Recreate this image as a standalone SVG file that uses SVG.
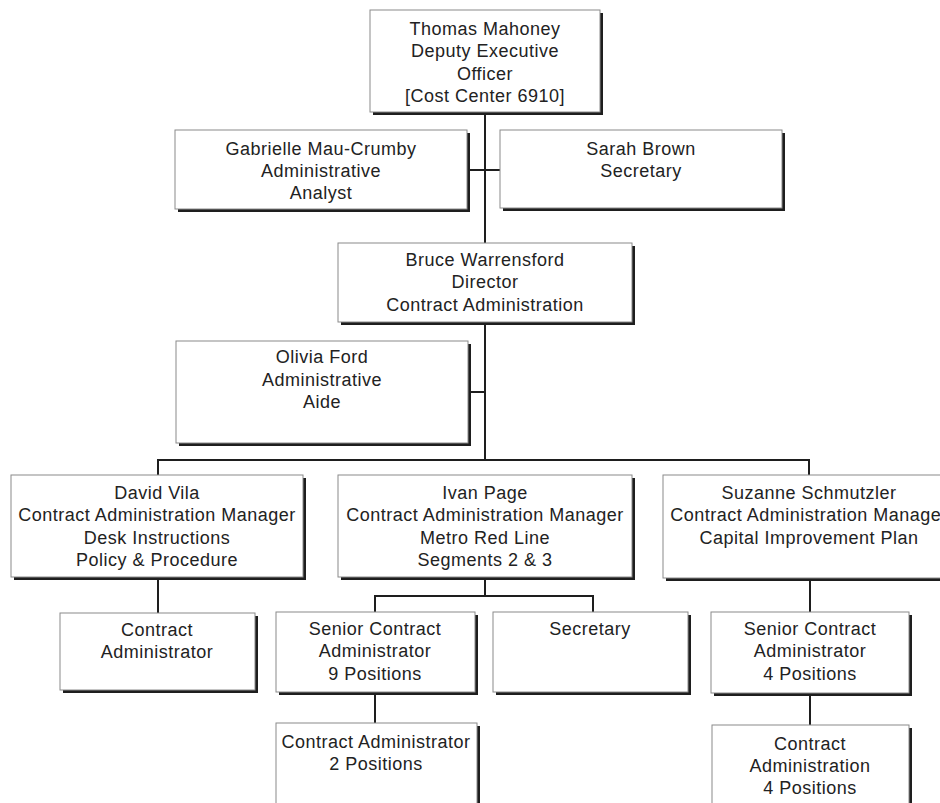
<svg xmlns="http://www.w3.org/2000/svg" width="940" height="803" viewBox="0 0 940 803">
<style>
.sh{fill:#1e1e1e}
.bx{fill:#fff;stroke:#8a8a8a;stroke-width:1}
.t{font-family:"Liberation Sans",Arial,sans-serif;font-size:18px;fill:#222;text-anchor:middle;letter-spacing:0.5px}
.c{stroke:#1e1e1e;stroke-width:2;fill:none}
</style>
<rect width="940" height="803" fill="#fff"/>
<g id="connectors">
<path class="c" d="M485 112V460M467 170H500M468 392H485M158 475V460H809V475M485 577V596M375 612V596H593V612M158 577V613M375 692V723M810 578V612M810 693V725"/>
</g>
<g id="n1"><rect class="sh" x="373" y="13" width="230" height="102"/><rect class="bx" x="370" y="10" width="230" height="102"/>
<text class="t" x="485" y="35">Thomas Mahoney</text><text class="t" x="485" y="57">Deputy Executive</text><text class="t" x="485" y="80">Officer</text><text class="t" x="485" y="102">[Cost Center 6910]</text></g>
<g id="n2"><rect class="sh" x="178" y="133" width="292" height="79"/><rect class="bx" x="175" y="130" width="292" height="79"/>
<text class="t" x="321" y="155">Gabrielle Mau-Crumby</text><text class="t" x="321" y="177">Administrative</text><text class="t" x="321" y="199">Analyst</text></g>
<g id="n3"><rect class="sh" x="503" y="133" width="282" height="78"/><rect class="bx" x="500" y="130" width="282" height="78"/>
<text class="t" x="641" y="155">Sarah Brown</text><text class="t" x="641" y="177">Secretary</text></g>
<g id="n4"><rect class="sh" x="341" y="246" width="294" height="79"/><rect class="bx" x="338" y="243" width="294" height="79"/>
<text class="t" x="485" y="266">Bruce Warrensford</text><text class="t" x="485" y="288">Director</text><text class="t" x="485" y="311">Contract Administration</text></g>
<g id="n5"><rect class="sh" x="179" y="344" width="292" height="102"/><rect class="bx" x="176" y="341" width="292" height="102"/>
<text class="t" x="322" y="363">Olivia Ford</text><text class="t" x="322" y="386">Administrative</text><text class="t" x="322" y="408">Aide</text></g>
<g id="n6"><rect class="sh" x="14" y="478" width="292" height="102"/><rect class="bx" x="11" y="475" width="292" height="102"/>
<text class="t" x="157" y="499">David Vila</text><text class="t" x="157" y="521">Contract Administration Manager</text><text class="t" x="157" y="544">Desk Instructions</text><text class="t" x="157" y="566">Policy &amp; Procedure</text></g>
<g id="n7"><rect class="sh" x="341" y="478" width="294" height="102"/><rect class="bx" x="338" y="475" width="294" height="102"/>
<text class="t" x="485" y="499">Ivan Page</text><text class="t" x="485" y="521">Contract Administration Manager</text><text class="t" x="485" y="544">Metro Red Line</text><text class="t" x="485" y="566">Segments 2 &amp; 3</text></g>
<g id="n8"><rect class="sh" x="666" y="478" width="292" height="103"/><rect class="bx" x="663" y="475" width="292" height="103"/>
<text class="t" x="809" y="499">Suzanne Schmutzler</text><text class="t" x="809" y="521">Contract Administration Manager</text><text class="t" x="809" y="544">Capital Improvement Plan</text></g>
<g id="n9"><rect class="sh" x="63" y="616" width="195" height="77"/><rect class="bx" x="60" y="613" width="195" height="77"/>
<text class="t" x="157" y="636">Contract</text><text class="t" x="157" y="658">Administrator</text></g>
<g id="n10"><rect class="sh" x="279" y="615" width="199" height="80"/><rect class="bx" x="276" y="612" width="199" height="80"/>
<text class="t" x="375" y="635">Senior Contract</text><text class="t" x="375" y="657">Administrator</text><text class="t" x="375" y="680">9 Positions</text></g>
<g id="n11"><rect class="sh" x="496" y="615" width="195" height="80"/><rect class="bx" x="493" y="612" width="195" height="80"/>
<text class="t" x="590" y="635">Secretary</text></g>
<g id="n12"><rect class="sh" x="714" y="615" width="198" height="81"/><rect class="bx" x="711" y="612" width="198" height="81"/>
<text class="t" x="810" y="635">Senior Contract</text><text class="t" x="810" y="657">Administrator</text><text class="t" x="810" y="680">4 Positions</text></g>
<g id="n13"><rect class="sh" x="279" y="726" width="201" height="100"/><rect class="bx" x="276" y="723" width="201" height="100"/>
<text class="t" x="376" y="748">Contract Administrator</text><text class="t" x="376" y="770">2 Positions</text></g>
<g id="n14"><rect class="sh" x="715" y="728" width="197" height="100"/><rect class="bx" x="712" y="725" width="197" height="100"/>
<text class="t" x="810" y="750">Contract</text><text class="t" x="810" y="772">Administration</text><text class="t" x="810" y="794">4 Positions</text></g>
</svg>
